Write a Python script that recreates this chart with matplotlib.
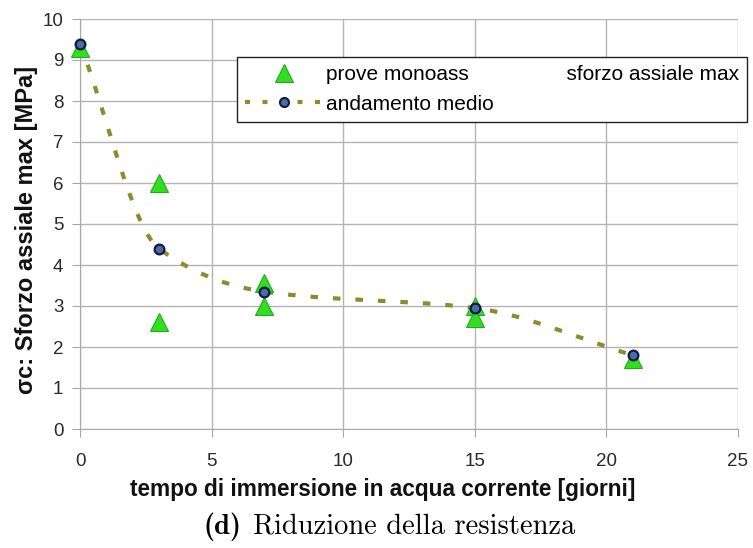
import numpy as np
import matplotlib
matplotlib.use("Agg")
import matplotlib.pyplot as plt
from matplotlib.lines import Line2D

# data
test_days = [0, 3, 3, 7, 7, 15, 15, 21]
test_stress = [9.3, 6.0, 2.6, 3.55, 3.0, 3.0, 2.7, 1.7]
mean_days = [0, 3, 7, 15, 21]
mean_stress = [9.4, 4.4, 3.35, 2.95, 1.8]
xticks = [0, 5, 10, 15, 20, 25]
yticks = list(range(0, 11))


def monotone_spline(x, y, n=400):
    """Fritsch-Carlson monotone cubic through the given points."""
    x = np.asarray(x, float); y = np.asarray(y, float)
    h = np.diff(x); d = np.diff(y) / h
    m = np.zeros_like(y)
    m[0] = d[0]; m[-1] = d[-1]
    for i in range(1, len(x) - 1):
        if d[i - 1] * d[i] <= 0:
            m[i] = 0
        else:
            w1 = 2 * h[i] + h[i - 1]; w2 = h[i] + 2 * h[i - 1]
            m[i] = (w1 + w2) / (w1 / d[i - 1] + w2 / d[i])
    xs = np.linspace(x[0], x[-1], n); ys = np.empty_like(xs)
    for j, xv in enumerate(xs):
        i = min(np.searchsorted(x, xv, side='right') - 1, len(x) - 2)
        t = (xv - x[i]) / h[i]
        h00 = 2 * t**3 - 3 * t**2 + 1; h10 = t**3 - 2 * t**2 + t
        h01 = -2 * t**3 + 3 * t**2; h11 = t**3 - t**2
        ys[j] = h00 * y[i] + h10 * h[i] * m[i] + h01 * y[i + 1] + h11 * h[i] * m[i + 1]
    return xs, ys


plt.rcParams['font.family'] = ['Liberation Sans', 'DejaVu Sans']
fig = plt.figure(figsize=(7.53, 5.48), dpi=100)
W, H = 753, 548
ax = fig.add_axes([80 / W, 1 - 429 / H, 658 / W, 410 / H])

ax.set_xlim(0, 25)
ax.set_ylim(0, 10)
ax.set_xticks(xticks)
ax.set_yticks(yticks)
ax.grid(True, color='#b4b4b4', linewidth=1.0)
ax.set_axisbelow(True)
for s in ['top', 'right']:
    ax.spines[s].set_visible(False)
for s in ['left', 'bottom']:
    ax.spines[s].set_color('#a8a8a8')
ax.tick_params(axis='both', direction='out', length=6, color='#a8a8a8',
               labelsize=13.5, labelcolor='#2a2a2a')
ax.tick_params(axis='x', pad=11)
ax.tick_params(axis='y', pad=6)

olive = '#8c8c2e'
xs, ys = monotone_spline(mean_days, mean_stress)
ax.plot(xs, ys, color=olive, linewidth=3, dashes=(1.8, 3.6), zorder=2, clip_on=False)

ax.plot(test_days, test_stress, linestyle='none', marker='^', markersize=13,
        markerfacecolor='#33dd22', markeredgecolor='#22aa22', markeredgewidth=0.8,
        zorder=3, clip_on=False)
ax.plot(mean_days, mean_stress, linestyle='none', marker='o', markersize=7,
        markerfacecolor='#4d6d9e', markeredgecolor='#0e1a48', markeredgewidth=1.6,
        zorder=4, clip_on=False)

h1 = Line2D([], [], linestyle='none', marker='^', markersize=12.5,
            markerfacecolor='#33dd22', markeredgecolor='#22aa22', markeredgewidth=0.8)
h2 = Line2D([], [], color=olive, linewidth=3, dashes=(1.2, 3.0), marker='o', markersize=6.5,
            markerfacecolor='#4d6d9e', markeredgecolor='#0e1a48', markeredgewidth=1.5)
leg = ax.legend([h1, h2],
                ['prove monoass' + ' ' * 17 + 'sforzo assiale max', 'andamento medio'],
                loc='upper left', bbox_to_anchor=((237 - 80) / 658, (429 - 57) / 410),
                fontsize=15, frameon=True, fancybox=False, edgecolor='#222222',
                framealpha=1, handlelength=3.7, handletextpad=0.15, borderpad=0.4,
                labelspacing=0.5, borderaxespad=0)
leg.get_frame().set_linewidth(1.0)
leg.set_clip_on(False)

ax.set_xlabel('tempo di immersione in acqua corrente [giorni]', fontsize=16.3,
              fontweight='bold', color='#111111')
ax.xaxis.set_label_coords((383 - 80) / 658, (429 - 478) / 410)
ax.set_ylabel('σc: Sforzo assiale max [MPa]', fontsize=17, fontweight='bold',
              color='#111111')
ax.yaxis.set_label_coords((38 - 80) / 658, (429 - 230) / 410)

fig.text(203 / W, (H - 534) / H, '(d)', fontname='cmb10', fontsize=20.5,
         ha='left', va='baseline')
fig.text(253 / W, (H - 534) / H, 'Riduzione della resistenza', fontname='cmr10',
         fontsize=20.5, ha='left', va='baseline')

fig.savefig('out.png', dpi=100)
